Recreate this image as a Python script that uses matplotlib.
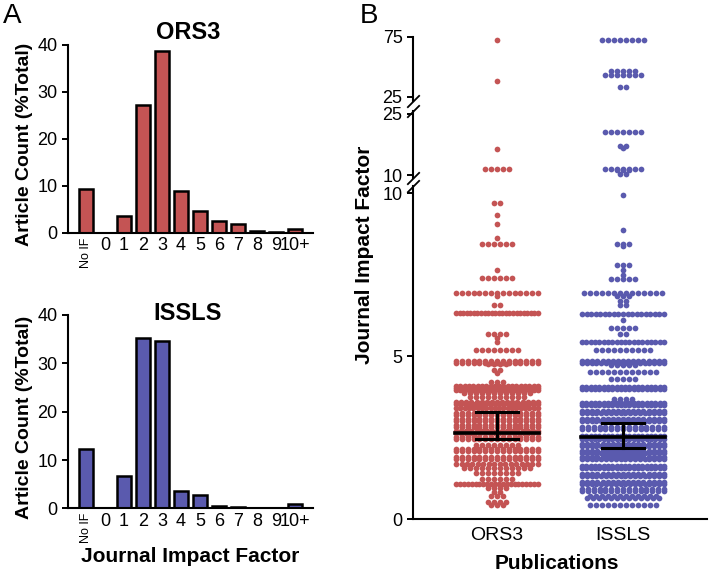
import numpy as np
import matplotlib.pyplot as plt

plt.rcParams['font.family'] = ['Liberation Sans', 'DejaVu Sans']

RED = '#C45454'
BLUE = '#5A5AAE'

# Panel A: share of articles per impact factor bin (% of total)
bins = ['No IF', '0', '1', '2', '3', '4', '5', '6', '7', '8', '9', '10+']
ors3_pct = [9.3, 0, 3.7, 27.2, 38.8, 8.9, 4.6, 2.5, 1.9, 0.4, 0.2, 0.9]
issls_pct = [12.2, 0, 6.7, 35.2, 34.7, 3.6, 2.8, 0.5, 0.4, 0, 0, 0.9]

# Panel B: impact factor levels and number of articles at each level
ors3_if = [72.5, 38.6, 16.3, 11.6, 9.7, 9.33, 9.05, 8.61, 8.43, 7.64, 7.40,
           6.92, 6.85, 6.56, 6.31, 5.67, 5.55, 5.44, 5.18, 4.82, 4.75, 4.57,
           4.48, 4.2, 4.05, 3.96, 3.88, 3.75, 3.55, 3.4, 3.22, 3.04, 2.85,
           2.68, 2.48, 2.27, 2.12, 1.87, 1.69, 1.57, 1.41, 1.23, 1.07, 0.95,
           0.84, 0.71, 0.53, 0.43]
ors3_n = [1, 1, 1, 5, 2, 1, 1, 1, 6, 1, 6,
          15, 1, 2, 24, 4, 1, 1, 8, 30, 4, 2,
          1, 3, 40, 20, 12, 10, 35, 20, 30, 30, 30,
          35, 30, 8, 30, 30, 16, 12, 8, 6, 22, 4,
          2, 3, 4, 3]

issls_if = [72.5, 46.6, 43.0, 33.3, 20.6, 17.2, 16.6, 11.6, 11.2, 10.3, 9.93,
            8.87, 8.45, 8.38, 7.79, 7.64, 7.5, 7.35, 6.92, 6.85, 6.7, 6.55,
            6.29, 6.1, 5.85, 5.67, 5.43, 5.18, 4.82, 4.72, 4.52, 4.29, 4.02,
            3.68, 3.53, 3.28, 3.04, 2.8, 2.5, 2.27, 2.06, 1.87, 1.6, 1.35,
            1.1, 0.89, 0.68, 0.43]
issls_n = [8, 5, 7, 2, 7, 2, 1, 7, 3, 2, 1,
           1, 3, 1, 3, 1, 1, 5, 14, 3, 2, 2,
           19, 1, 5, 2, 20, 10, 35, 5, 12, 5, 40,
           4, 40, 35, 35, 30, 40, 35, 35, 35, 40, 35,
           35, 30, 25, 12]

# lower, median, upper
ors3_stats = [2.45, 2.65, 3.29]
issls_stats = [2.19, 2.52, 2.93]


def swarm(levels, counts, x0, step=0.048, half=0.325, dy=0.07):
    xs, ys = [], []
    for v, n in zip(levels, counts):
        m = int(np.ceil(n / 24))
        sizes = [n // m + (1 if i < n % m else 0) for i in range(m)]
        for j, k in enumerate(sizes):
            sp = step if k <= 14 else 2 * half / (k - 1)
            off = (np.arange(k) - (k - 1) / 2) * sp
            xs.extend(x0 + off)
            ys.extend([v + (j - (m - 1) / 2) * dy] * k)
    return np.array(xs), np.array(ys)


fig = plt.figure(figsize=(7.09, 5.79), dpi=100)

# ---- panel A ----
axA1 = fig.add_axes([0.0959, 0.5976, 0.3456, 0.3247])
axA2 = fig.add_axes([0.0959, 0.1218, 0.3456, 0.3342])

x = np.arange(len(bins))
for ax, vals, color, title, ty in [(axA1, ors3_pct, RED, 'ORS3', 1.064),
                                    (axA2, issls_pct, BLUE, 'ISSLS', 1.01)]:
    ax.bar(x, vals, width=0.74, color=color, edgecolor='black', linewidth=1.8)
    ax.set_xlim(-0.95, 11.95)
    ax.set_ylim(0, 40)
    ax.set_yticks([0, 10, 20, 30, 40])
    ax.set_xticks(x)
    ax.set_xticklabels(bins, fontsize=13)
    lbl = ax.get_xticklabels()[0]
    lbl.set_rotation(90)
    lbl.set_fontsize(9)
    ax.tick_params(axis='x', length=0, pad=3)
    ax.tick_params(axis='y', labelsize=13, length=4, width=1.4)
    for s in ['top', 'right']:
        ax.spines[s].set_visible(False)
    for s in ['left', 'bottom']:
        ax.spines[s].set_linewidth(1.5)
    ax.set_ylabel('Article Count (%Total)', fontsize=14, fontweight='bold')
    ax.yaxis.set_label_coords(-0.143, 0.47)
    ax.text(0.49, ty, title, transform=ax.transAxes, ha='center', va='center',
            fontsize=17, fontweight='bold')

axA2.set_xlabel('Journal Impact Factor', fontsize=15, fontweight='bold')
axA2.xaxis.set_label_coords(0.5, -0.2)

# ---- panel B (broken y axis) ----
left, width = 0.5825, 0.4147
axB3 = fig.add_axes([left, 0.8263, width, 0.1098])
axB2 = fig.add_axes([left, 0.692, width, 0.1168])
axB1 = fig.add_axes([left, 0.1036, width, 0.5743])

segments = [(axB3, (22, 75), [25, 75], 25, 100),
            (axB2, (9.2, 25.8), [10, 25], 10, 25),
            (axB1, (0, 10.2), [0, 5, 10], 0, 10)]

ox, oy = swarm(ors3_if, ors3_n, 0)
ix, iy = swarm(issls_if, issls_n, 1)

for ax, ylim, ticks, lo, hi in segments:
    for xs, ys, c in [(ox, oy, RED), (ix, iy, BLUE)]:
        keep = (ys >= lo) & (ys < hi)
        ax.scatter(xs[keep], ys[keep], s=17, color=c, linewidths=0, zorder=2)
    ax.set_xlim(-0.667, 1.667)
    ax.set_ylim(*ylim)
    ax.set_yticks(ticks)
    ax.tick_params(axis='y', labelsize=13, length=4, width=1.4)
    ax.spines['left'].set_linewidth(1.5)
    for s in ['top', 'right']:
        ax.spines[s].set_visible(False)
    if ax is not axB1:
        ax.spines['bottom'].set_visible(False)
        ax.set_xticks([])

kw = dict(marker=[(-1, -1), (1, 1)], markersize=9, linestyle='none',
          color='k', mec='k', mew=1.3, clip_on=False)
axB3.plot([0], [0], transform=axB3.transAxes, **kw)
axB2.plot([0, 0], [0, 1], transform=axB2.transAxes, **kw)
axB1.plot([0], [1], transform=axB1.transAxes, **kw)

axB1.spines['bottom'].set_linewidth(1.5)
axB1.set_xticks([0, 1])
axB1.set_xticklabels(['ORS3', 'ISSLS'], fontsize=14)
axB1.tick_params(axis='x', length=0, pad=6)
axB1.set_xlabel('Publications', fontsize=15, fontweight='bold')
axB1.xaxis.set_label_coords(0.49, -0.105)

# median with interquartile range
for xc, (q1, med, q3) in [(0, ors3_stats), (1, issls_stats)]:
    axB1.plot([xc - 0.33, xc + 0.33], [med, med], color='black', lw=2.6, zorder=3)
    axB1.plot([xc, xc], [q1, q3], color='black', lw=2.2, zorder=3)
    for q in (q1, q3):
        axB1.plot([xc - 0.17, xc + 0.17], [q, q], color='black', lw=2.2, zorder=3)

fig.text(365 / 709, 1 - 255 / 579, 'Journal Impact Factor', rotation=90,
         ha='center', va='center', fontsize=15, fontweight='bold')

fig.text(0.004, 0.995, 'A', ha='left', va='top', fontsize=20)
fig.text(0.508, 0.995, 'B', ha='left', va='top', fontsize=20)

fig.savefig('out.png', dpi=100)
